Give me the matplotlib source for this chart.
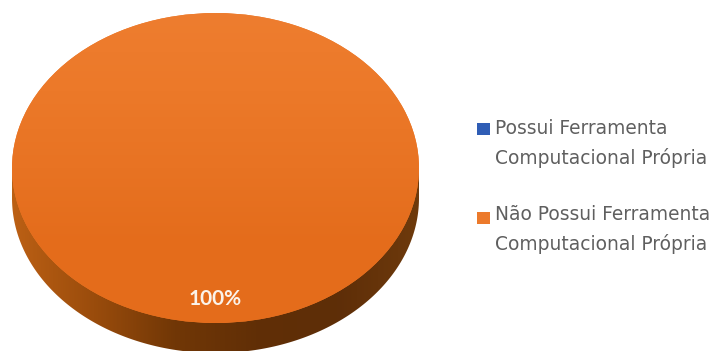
import numpy as np
from matplotlib import pyplot as plt
from matplotlib.colors import LinearSegmentedColormap
from matplotlib.patches import Polygon, Rectangle

labels = ['Possui Ferramenta\nComputacional Própria', 'Não Possui Ferramenta\nComputacional Própria']
values = [0, 100]
colors = ['#2F5DB5', '#EC7A2B']

# pixel geometry of the tilted disc
W, H = 713, 351
cx, cy = 215.5, 168
rx, ry = 203.5, 155
depth = 30

fig = plt.figure(figsize=(W / 100, H / 100), dpi=100)

# the pie lives in a stretched axes so its unit circle becomes an ellipse
ax = fig.add_axes([0, 0, 1, 1])
wedges, _ = ax.pie(values, colors=colors, startangle=90, center=(0, 0), radius=1)
ax.set_aspect('auto')
ax.axis('off')

top_cmap = LinearSegmentedColormap.from_list('top', ['#EE7D2F', '#EC7929', '#E87323', '#E46C1B', '#E56D1C'])
side_cmap = LinearSegmentedColormap.from_list('side', ['#BC6014', '#9A4C0C', '#713706', '#612F06', '#5E2E08', '#6E3A0C'])

# rim of the disc, shaded from left to right
t = np.linspace(np.pi, 2 * np.pi, 200)
drop = depth / ry
rim = np.column_stack([np.cos(t), np.sin(t) - drop])
rim = np.vstack([rim, [[1, 0], [-1, 0]]])
rim_patch = Polygon(rim, closed=True, facecolor='none', edgecolor='none', zorder=1)
ax.add_patch(rim_patch)
side = ax.imshow(np.linspace(0, 1, 256).reshape(1, -1), cmap=side_cmap, aspect='auto',
                 extent=[-1, 1, -1 - drop, 0], zorder=1)
side.set_clip_path(rim_patch)

# top face, shaded from top to bottom
wedges[1].set_zorder(2)
face = ax.imshow(np.linspace(0, 1, 256).reshape(-1, 1), cmap=top_cmap, aspect='auto',
                 extent=[-1, 1, -1, 1], zorder=3)
face.set_clip_path(wedges[1])
ax.set_xlim(-cx / rx, (W - cx) / rx)
ax.set_ylim(-(H - cy) / ry, cy / ry)

# overlay in pixel coordinates for the label and the legend
over = fig.add_axes([0, 0, 1, 1], facecolor='none')
over.set_xlim(0, W)
over.set_ylim(H, 0)
over.axis('off')

over.text(215, 299, f'{values[1]:.0f}%', color='#FBF3EA', fontsize=15, fontweight='bold',
          family='Lato', ha='center', va='center')

legend_y = [123, 212]
text_y = [129, 215]
for label, color, y, ty in zip(labels, colors, legend_y, text_y):
    over.add_patch(Rectangle((477, y), 13, 12, facecolor=color, edgecolor='none'))
    over.text(495, ty - 10, label, color='#5F5F5F', fontsize=13.4, family='DejaVu Sans',
              ha='left', va='top', linespacing=1.62)

fig.savefig('out.png', dpi=100)
